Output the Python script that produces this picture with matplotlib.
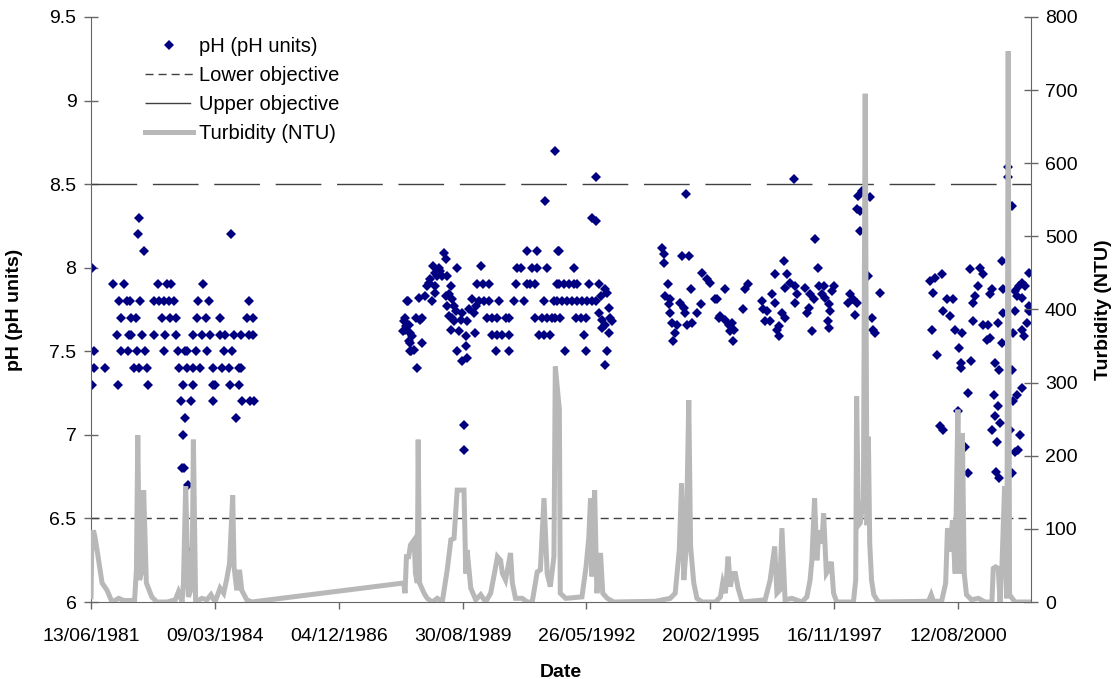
from datetime import datetime, timedelta

import matplotlib
matplotlib.use("Agg")
import matplotlib.pyplot as plt
import matplotlib.dates as mdates

plt.rcParams.update({
    "font.family": ["Liberation Sans", "DejaVu Sans"],
    "font.size": 14,
})

# pH samples as (decimal year, pH units), grouped by monitoring campaign
ph_1981_85 = [
    (1981.47, 8.0), (1981.52, 7.5), (1981.51, 7.4), (1981.46, 7.3), (1981.76, 7.4),
    (1981.93, 7.9), (1982.17, 7.9), (1982.06, 7.8), (1982.24, 7.8), (1982.30, 7.8),
    (1982.52, 7.8), (1982.12, 7.7), (1982.34, 7.7), (1982.45, 7.7), (1982.01, 7.6),
    (1982.28, 7.6), (1982.32, 7.6), (1982.57, 7.6), (1982.10, 7.5), (1982.26, 7.5),
    (1982.46, 7.5), (1982.63, 7.5), (1982.39, 7.4), (1982.50, 7.4), (1982.68, 7.4),
    (1982.04, 7.3), (1982.71, 7.3), (1982.50, 8.3), (1982.49, 8.2), (1982.61, 8.1),
    (1982.83, 7.6), (1982.93, 7.9), (1983.13, 7.9), (1983.21, 7.9), (1982.83, 7.8),
    (1982.94, 7.8), (1983.05, 7.8), (1983.16, 7.8), (1983.29, 7.8), (1983.02, 7.7),
    (1983.20, 7.7), (1983.33, 7.7), (1983.09, 7.6), (1983.33, 7.6), (1983.07, 7.5),
    (1983.38, 7.5), (1983.53, 7.5), (1983.57, 7.5), (1983.77, 7.5), (1984.01, 7.5),
    (1983.40, 7.4), (1983.57, 7.4), (1983.71, 7.4), (1983.86, 7.4), (1984.14, 7.4),
    (1984.34, 7.4), (1984.49, 7.4), (1984.73, 7.4), (1984.76, 7.4), (1983.48, 7.3),
    (1983.70, 7.3), (1984.14, 7.3), (1984.19, 7.3), (1984.51, 7.3), (1984.71, 7.3),
    (1983.44, 7.2), (1983.66, 7.2), (1984.14, 7.2), (1984.78, 7.2), (1984.96, 7.2),
    (1983.52, 7.1), (1984.65, 7.1), (1983.49, 7.0), (1983.46, 6.8), (1983.51, 6.8),
    (1983.60, 6.7), (1983.64, 6.3), (1983.92, 7.9), (1983.81, 7.8), (1984.05, 7.8),
    (1983.79, 7.7), (1984.00, 7.7), (1984.29, 7.7), (1983.71, 7.6), (1983.90, 7.6),
    (1984.08, 7.6), (1984.30, 7.6), (1984.41, 7.6), (1984.60, 7.6), (1984.76, 7.6),
    (1984.93, 7.6), (1984.38, 7.5), (1984.56, 7.5), (1984.55, 8.2), (1984.89, 7.7),
    (1984.94, 7.8), (1985.02, 7.7), (1985.03, 7.6), (1985.04, 7.2),
]

ph_1988_93 = [
    (1988.44, 7.80), (1988.38, 7.70), (1988.40, 7.65), (1988.35, 7.62), (1988.48, 7.56),
    (1988.50, 7.50), (1988.46, 7.80), (1988.36, 7.68), (1988.39, 7.63), (1988.47, 7.66),
    (1988.51, 7.61), (1988.55, 7.59), (1988.51, 7.55), (1988.77, 7.55), (1988.59, 7.51),
    (1988.53, 7.50), (1988.66, 7.40), (1988.64, 7.70), (1988.70, 7.82), (1988.77, 7.70),
    (1988.73, 7.69), (1988.84, 7.83), (1988.88, 7.89), (1988.92, 7.91), (1988.99, 7.80),
    (1988.95, 7.93), (1989.05, 7.89), (1989.10, 7.95), (1989.14, 8.00), (1989.00, 8.01),
    (1989.06, 7.97), (1989.17, 7.98), (1989.25, 8.09), (1989.29, 8.05), (1989.21, 7.95),
    (1989.32, 7.95), (1989.06, 7.85), (1989.40, 7.89), (1989.36, 7.84), (1989.43, 7.81),
    (1989.29, 7.83), (1989.32, 7.77), (1989.47, 7.77), (1989.36, 7.71), (1989.43, 7.70),
    (1989.51, 7.74), (1989.65, 7.73), (1989.47, 7.68), (1989.62, 7.69), (1989.40, 7.63),
    (1989.57, 7.62), (1989.76, 7.68), (1989.73, 7.59), (1989.93, 7.61), (1989.53, 7.50),
    (1989.73, 7.53), (1989.76, 7.46), (1989.65, 7.44), (1989.54, 8.00), (1989.80, 7.75),
    (1989.95, 7.77), (1989.70, 7.06), (1989.69, 6.91), (1990.06, 8.01), (1989.98, 7.90),
    (1990.11, 7.90), (1990.24, 7.90), (1989.87, 7.81), (1990.02, 7.80), (1990.13, 7.80),
    (1990.24, 7.80), (1990.46, 7.80), (1989.91, 7.73), (1990.21, 7.70), (1990.32, 7.70),
    (1990.43, 7.70), (1990.61, 7.70), (1990.68, 7.70), (1990.32, 7.60), (1990.43, 7.60),
    (1990.54, 7.60), (1990.68, 7.60), (1990.39, 7.50), (1990.68, 7.50), (1990.79, 7.80),
    (1991.01, 7.80), (1990.83, 7.90), (1991.09, 7.90), (1991.16, 7.90), (1991.27, 7.90),
    (1990.87, 8.00), (1990.96, 8.00), (1991.20, 8.00), (1991.31, 8.00), (1991.53, 8.00),
    (1991.09, 8.10), (1991.31, 8.10), (1991.77, 8.10), (1991.27, 7.70), (1991.42, 7.70),
    (1991.53, 7.70), (1991.64, 7.70), (1991.71, 7.70), (1991.46, 7.80), (1991.68, 7.80),
    (1991.35, 7.60), (1991.46, 7.60), (1991.60, 7.60), (1991.48, 8.40), (1991.71, 8.70),
    (1991.75, 7.90), (1992.60, 8.54), (1992.52, 8.30), (1992.60, 8.28), (1991.79, 8.10),
    (1992.12, 8.00), (1991.79, 7.90), (1991.90, 7.90), (1992.01, 7.90), (1992.12, 7.90),
    (1992.19, 7.90), (1992.45, 7.90), (1992.67, 7.90), (1991.75, 7.80), (1991.86, 7.80),
    (1991.97, 7.80), (1992.08, 7.80), (1992.19, 7.80), (1992.30, 7.80), (1992.41, 7.80),
    (1992.52, 7.80), (1992.60, 7.80), (1992.71, 7.83), (1992.82, 7.87), (1992.85, 7.85),
    (1991.82, 7.70), (1992.16, 7.70), (1992.27, 7.70), (1992.38, 7.70), (1992.67, 7.73),
    (1992.89, 7.76), (1992.74, 7.69), (1992.97, 7.68), (1992.93, 7.70), (1992.34, 7.60),
    (1992.74, 7.64), (1992.89, 7.61), (1992.82, 7.66), (1991.92, 7.50), (1992.38, 7.50),
    (1992.86, 7.50), (1992.80, 7.42),
]

ph_1994_98 = [
    (1994.07, 8.12), (1994.11, 8.08), (1994.11, 8.03), (1994.50, 8.07), (1994.66, 8.07),
    (1994.95, 7.97), (1995.06, 7.93), (1995.14, 7.91), (1995.25, 7.81), (1994.20, 7.90),
    (1994.70, 7.87), (1994.14, 7.83), (1994.25, 7.81), (1994.22, 7.78), (1994.25, 7.73),
    (1994.47, 7.79), (1994.55, 7.76), (1994.92, 7.78), (1994.84, 7.73), (1994.58, 7.73),
    (1994.29, 7.67), (1994.40, 7.66), (1994.62, 7.66), (1994.73, 7.67), (1994.36, 7.61),
    (1994.31, 7.56), (1995.32, 7.70), (1994.60, 8.44), (1995.28, 7.81), (1995.47, 7.87),
    (1995.36, 7.71), (1995.47, 7.69), (1995.54, 7.66), (1995.62, 7.67), (1995.58, 7.62),
    (1995.65, 7.63), (1995.63, 7.56), (1995.87, 7.75), (1995.91, 7.87), (1995.97, 7.90),
    (1996.28, 7.80), (1996.31, 7.75), (1996.39, 7.74), (1996.50, 7.84), (1996.56, 7.79),
    (1996.35, 7.68), (1996.46, 7.68), (1996.65, 7.65), (1996.61, 7.63), (1996.66, 7.59),
    (1996.72, 7.73), (1996.79, 7.70), (1996.57, 7.96), (1996.76, 8.04), (1996.83, 7.96),
    (1996.90, 7.91), (1996.79, 7.88), (1997.01, 7.89), (1997.05, 7.84), (1997.01, 7.79),
    (1997.23, 7.88), (1997.34, 7.84), (1997.42, 7.81), (1997.31, 7.76), (1997.27, 7.73),
    (1997.38, 7.62), (1997.53, 7.89), (1997.64, 7.89), (1997.60, 7.84), (1997.45, 8.17),
    (1997.51, 8.00), (1997.68, 7.82), (1997.75, 7.78), (1997.79, 7.74), (1997.74, 7.68),
    (1997.75, 7.64), (1997.86, 7.89), (1997.82, 7.86), (1996.98, 8.53), (1998.41, 8.43),
    (1998.49, 8.46), (1998.67, 8.42), (1998.38, 8.35), (1998.45, 8.34), (1998.45, 8.22),
    (1998.63, 7.95), (1998.23, 7.84), (1998.30, 7.81), (1998.19, 7.79), (1998.38, 7.79),
    (1998.34, 7.72), (1998.71, 7.70), (1998.74, 7.63), (1998.78, 7.61), (1998.89, 7.85),
]

ph_1999_02 = [
    (2000.00, 7.92), (2000.10, 7.94), (2000.25, 7.96), (2000.07, 7.85), (2000.36, 7.81),
    (2000.51, 7.81), (2000.29, 7.74), (2000.44, 7.71), (2000.03, 7.63), (2000.55, 7.63),
    (2000.71, 7.61), (2000.14, 7.48), (2000.63, 7.52), (2000.68, 7.43), (2000.68, 7.40),
    (2000.91, 7.44), (2000.84, 7.25), (2000.62, 7.14), (2000.22, 7.05), (2000.29, 7.03),
    (2000.77, 6.93), (2000.83, 6.77), (2000.88, 7.99), (2001.10, 8.00), (2001.17, 7.96),
    (2001.06, 7.89), (2000.99, 7.83), (2000.95, 7.79), (2001.36, 7.87), (2001.32, 7.84),
    (2000.95, 7.68), (2001.17, 7.66), (2001.28, 7.66), (2001.25, 7.57), (2001.32, 7.58),
    (2001.50, 7.67), (2001.58, 8.04), (2001.61, 7.87), (2001.58, 7.55), (2001.43, 7.43),
    (2001.52, 7.39), (2001.41, 7.24), (2001.49, 7.17), (2001.43, 7.11), (2001.54, 7.07),
    (2001.37, 7.03), (2001.47, 6.96), (2001.45, 6.78), (2001.52, 6.74), (2001.71, 8.60),
    (2001.71, 8.54), (2001.81, 8.37), (2001.87, 7.86), (2001.96, 7.89), (2002.02, 7.91),
    (2002.09, 7.89), (2001.91, 7.83), (2002.02, 7.82), (2002.17, 7.97), (2002.17, 7.77),
    (2002.20, 7.74), (2001.87, 7.74), (2001.83, 7.61), (2002.02, 7.63), (2002.13, 7.67),
    (2002.06, 7.59), (2001.80, 7.39), (2002.02, 7.28), (2001.91, 7.24), (2001.83, 7.20),
    (2001.76, 7.03), (2001.98, 7.00), (2001.94, 6.91), (2001.87, 6.90), (2001.61, 7.73),
    (2001.80, 6.77), (2002.18, 7.74),
]

# turbidity record as (decimal year, NTU)
turbidity = [
    (1981.447, 7), (1981.46, 67), (1981.50, 98), (1981.53, 90), (1981.58, 71),
    (1981.69, 26), (1981.80, 16), (1981.91, 0), (1982.06, 5), (1982.17, 2),
    (1982.32, 2), (1982.41, 3), (1982.45, 44), (1982.48, 228), (1982.52, 30),
    (1982.56, 40), (1982.61, 153), (1982.67, 26), (1982.79, 7), (1982.90, 0),
    (1983.13, 0), (1983.31, 3), (1983.38, 14), (1983.46, 0), (1983.49, 26),
    (1983.54, 158), (1983.60, 7), (1983.68, 21), (1983.71, 222), (1983.76, 0),
    (1983.90, 5), (1984.01, 3), (1984.10, 10), (1984.19, 0), (1984.30, 19),
    (1984.38, 12), (1984.45, 32), (1984.51, 53), (1984.58, 146), (1984.61, 48),
    (1984.67, 16), (1984.73, 44), (1984.78, 16), (1984.89, 3), (1985.00, 0),
    (1988.36, 26), (1988.39, 12), (1988.42, 62), (1988.47, 62), (1988.51, 78),
    (1988.59, 85), (1988.62, 39), (1988.66, 26), (1988.68, 222), (1988.71, 26),
    (1988.81, 12), (1988.88, 5), (1988.99, 0), (1989.10, 5), (1989.21, 0),
    (1989.32, 44), (1989.40, 85), (1989.47, 87), (1989.54, 153), (1989.69, 153),
    (1989.73, 39), (1989.76, 71), (1989.84, 19), (1989.95, 3), (1990.06, 10),
    (1990.17, 0), (1990.28, 12), (1990.37, 41), (1990.43, 62), (1990.50, 57),
    (1990.54, 39), (1990.61, 30), (1990.72, 67), (1990.76, 26), (1990.83, 5),
    (1990.98, 5), (1991.09, 0), (1991.20, 0), (1991.31, 41), (1991.38, 44),
    (1991.46, 142), (1991.53, 39), (1991.60, 21), (1991.68, 62), (1991.71, 322),
    (1991.80, 263), (1991.82, 12), (1991.94, 5), (1992.30, 7), (1992.39, 48),
    (1992.45, 87), (1992.49, 142), (1992.52, 35), (1992.58, 153), (1992.63, 12),
    (1992.71, 67), (1992.76, 12), (1992.86, 5), (1993.00, 0), (1993.92, 1),
    (1994.25, 5), (1994.36, 12), (1994.45, 71), (1994.50, 162), (1994.55, 30),
    (1994.60, 71), (1994.66, 276), (1994.70, 76), (1994.77, 26), (1994.84, 5),
    (1994.95, 0), (1995.25, 0), (1995.36, 7), (1995.41, 26), (1995.47, 12),
    (1995.53, 62), (1995.58, 21), (1995.63, 39), (1995.69, 39), (1995.75, 19),
    (1995.84, 0), (1996.35, 3), (1996.46, 30), (1996.56, 76), (1996.61, 12),
    (1996.67, 16), (1996.72, 101), (1996.79, 3), (1996.94, 5), (1997.16, 0),
    (1997.27, 7), (1997.34, 30), (1997.38, 57), (1997.44, 142), (1997.49, 57),
    (1997.54, 98), (1997.60, 80), (1997.64, 121), (1997.70, 39), (1997.75, 44),
    (1997.81, 55), (1997.86, 12), (1997.93, 0), (1998.30, 0), (1998.35, 30),
    (1998.37, 281), (1998.41, 105), (1998.45, 108), (1998.52, 140), (1998.56, 695),
    (1998.60, 105), (1998.63, 226), (1998.66, 80), (1998.70, 30), (1998.75, 10),
    (1998.85, 0), (1999.96, 1), (2000.02, 10), (2000.07, 1), (2000.25, 1),
    (2000.34, 26), (2000.38, 101), (2000.44, 69), (2000.49, 112), (2000.55, 39),
    (2000.61, 263), (2000.66, 39), (2000.71, 231), (2000.75, 39), (2000.80, 10),
    (2000.91, 3), (2001.06, 5), (2001.21, 0), (2001.36, 0), (2001.39, 46),
    (2001.44, 48), (2001.50, 46), (2001.54, 0), (2001.58, 46), (2001.64, 158),
    (2001.69, 5), (2001.72, 753), (2001.75, 10), (2001.87, 0), (2002.22, 0),
]

lower_objective = 6.5
upper_objective = 8.5

start_date = datetime(1981, 6, 13)
end_date = start_date + timedelta(days=7589)
tick_step_days = 1000

C_PH = "#000080"
C_TURB = "#b8b8b8"
C_OBJ = "#404040"
C_AXIS = "#666666"


def to_dates(years):
    out = []
    for y in years:
        yi = int(y)
        out.append(datetime(yi, 1, 1) + timedelta(days=(y - yi) * 365.25))
    return out


ph_all = ph_1981_85 + ph_1988_93 + ph_1994_98 + ph_1999_02
ph_t = to_dates([p[0] for p in ph_all])
ph_v = [p[1] for p in ph_all]
tb_t = to_dates([p[0] for p in turbidity])
tb_v = [p[1] for p in turbidity]

fig = plt.figure(figsize=(11.17, 6.79), dpi=100)
ax = fig.add_axes([0.0815, 0.1134, 0.8415, 0.8616])
ax2 = ax.twinx()

ax.plot(ph_t, ph_v, "D", color=C_PH, markersize=5.6, markeredgewidth=0,
        linestyle="none", label="pH (pH units)")
ax.axhline(lower_objective, color=C_OBJ, lw=1.0, dashes=(5.8, 3.6),
           label="Lower objective")
ax.axhline(upper_objective, color=C_OBJ, lw=1.0, dashes=(32.9, 11.3),
           label="Upper objective")
ax2.plot(tb_t, tb_v, color=C_TURB, lw=3.6, solid_joinstyle="miter",
         label="Turbidity (NTU)")

ax.set_xlim(start_date, end_date)
ax.set_ylim(6, 9.5)
ax.set_yticks([6, 6.5, 7, 7.5, 8, 8.5, 9, 9.5])
ax.set_yticklabels(["6", "6.5", "7", "7.5", "8", "8.5", "9", "9.5"])
ax2.set_ylim(0, 800)
ax2.set_yticks(range(0, 801, 100))

ax.set_xticks([start_date + timedelta(days=tick_step_days * k) for k in range(8)])
ax.xaxis.set_major_formatter(mdates.DateFormatter("%d/%m/%Y"))

for a in (ax, ax2):
    a.spines["top"].set_visible(False)
    for s in a.spines.values():
        s.set_color(C_AXIS)
ax.spines["right"].set_visible(False)
ax2.spines["left"].set_visible(False)
ax2.spines["bottom"].set_visible(False)

ax.tick_params(axis="y", direction="inout", length=10, width=1, pad=5.5,
               color=C_AXIS, labelsize=14)
ax2.tick_params(axis="y", direction="inout", length=10, width=1, pad=5,
                color=C_AXIS, labelsize=14)
ax.tick_params(axis="x", direction="out", length=5, width=1, pad=13.5,
               color=C_AXIS, labelsize=14)

ax.set_xlabel("Date", fontweight="bold", fontsize=14)
ax.set_ylabel("pH (pH units)", fontweight="bold", fontsize=14)
ax2.set_ylabel("Turbidity (NTU)", fontweight="bold", fontsize=14)
ax.xaxis.set_label_coords(0.5, -0.106)
ax.yaxis.set_label_coords(-0.072, 0.5)
ax2.yaxis.set_label_coords(1.068, 0.5)

h1, l1 = ax.get_legend_handles_labels()
h2, l2 = ax2.get_legend_handles_labels()
leg = ax2.legend(h1 + h2, l1 + l2, loc="upper left",
                 bbox_to_anchor=(0.057, 0.966), frameon=False, fontsize=14.5,
                 handlelength=2.4, handletextpad=0.3, labelspacing=0.5,
                 borderpad=0, borderaxespad=0)

fig.savefig("out.png", dpi=100, facecolor="white")
